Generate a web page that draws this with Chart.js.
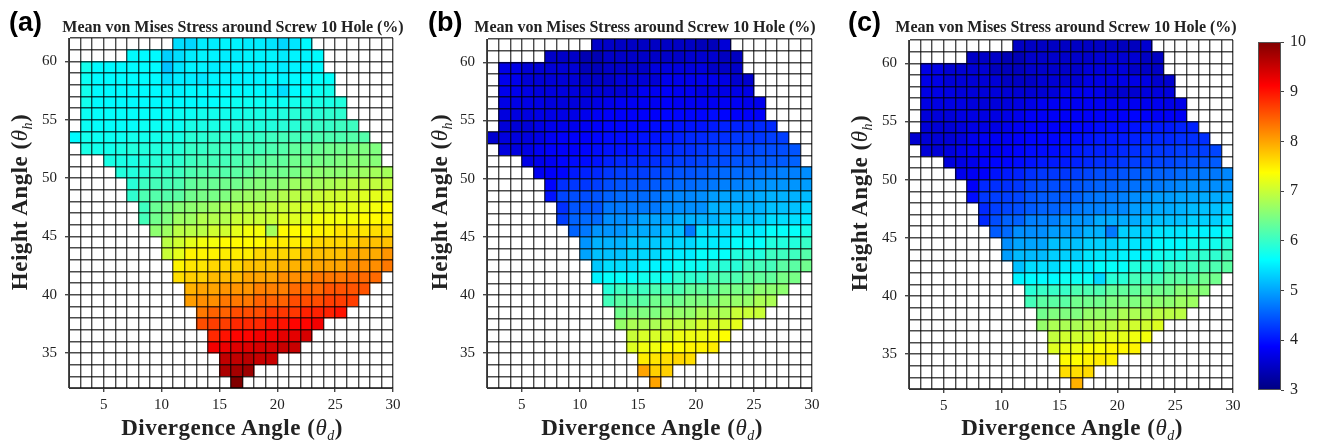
<!DOCTYPE html>
<html>
<head>
<meta charset="utf-8">
<script src="https://cdn.jsdelivr.net/npm/chart.js@4.4.1/dist/chart.umd.min.js"></script>
<style>
  body { margin: 0; background: #fff; }
  #fig { position: relative; width: 1317px; height: 443px; overflow: hidden; }
  canvas { position: absolute; top: 0; }
  .letter { position: absolute; top: 9px; font: bold 27px/27px 'Liberation Sans', Arial, sans-serif; color: #000; }
  .title { position: absolute; top: 19px; width: 380px; font: bold 16px/16px 'Liberation Serif', serif; color: #222; text-align: center; white-space: nowrap; }
  .xtitle { position: absolute; top: 416px; width: 300px; font: bold 23px/24px 'Liberation Serif', serif; letter-spacing: 0.5px; color: #222; text-align: center; white-space: nowrap; }
  .ytitle { position: absolute; width: 330px; height: 24px; font: bold 23px/24px 'Liberation Serif', serif; letter-spacing: 0.5px; color: #222; text-align: center; white-space: nowrap; transform: rotate(-90deg); }
  .m { font-weight: normal; font-style: italic; }
  .s { font-weight: normal; font-style: italic; font-size: 14px; position: relative; top: 5px; }
</style>
</head>
<body>
<div id="fig">
  <canvas id="panelA" width="420" height="443" style="left:0px"></canvas>
  <canvas id="panelB" width="420" height="443" style="left:420px"></canvas>
  <canvas id="panelC" width="410" height="443" style="left:840px"></canvas>
  <canvas id="cbar" width="72" height="443" style="left:1245px"></canvas>

  <div class="letter" style="left:9px">(a)</div>
  <div class="letter" style="left:428px">(b)</div>
  <div class="letter" style="left:848px">(c)</div>

  <div class="title" style="left:43px">Mean von Mises Stress around Screw 10 Hole (%)</div>
  <div class="title" style="left:455px">Mean von Mises Stress around Screw 10 Hole (%)</div>
  <div class="title" style="left:876px">Mean von Mises Stress around Screw 10 Hole (%)</div>

  <div class="xtitle" style="left:82px">Divergence Angle (<span class="m">θ</span><span class="s">d</span>)</div>
  <div class="xtitle" style="left:502px">Divergence Angle (<span class="m">θ</span><span class="s">d</span>)</div>
  <div class="xtitle" style="left:922px">Divergence Angle (<span class="m">θ</span><span class="s">d</span>)</div>

  <div class="ytitle" style="left:-145px;top:190px">Height Angle (<span class="m">θ</span><span class="s">h</span>)</div>
  <div class="ytitle" style="left:275px;top:190px">Height Angle (<span class="m">θ</span><span class="s">h</span>)</div>
  <div class="ytitle" style="left:695px;top:191px">Height Angle (<span class="m">θ</span><span class="s">h</span>)</div>
</div>

<script>
// Grid: columns x = 2..30, rows y = 32..62, one degree per cell
// first filled column of each row (row 0 = 32-33 deg, row 29 = 61-62 deg)
const rowStart = [14, 13, 13, 12, 12, 11, 11, 10, 10, 9, 9, 8, 8, 7, 6, 6, 5, 5, 4, 3, 1, 0, 1, 1, 1, 1, 1, 1, 5, 9];

const xTickLabels = [5, 10, 15, 20, 25, 30];
const yTickLabels = [35, 40, 45, 50, 55, 60];
const cbarTicks = [3, 4, 5, 6, 7, 8, 9, 10];

// (a) stress values per row, bottom to top
const valuesA = [
    [10.0],
    [9.7, 9.75, 9.8],
    [9.55, 9.55, 9.6, 9.5, 9.5],
    [9.2, 9.25, 9.35, 9.35, 9.4, 9.4, 9.5, 9.5],
    [8.85, 9.0, 9.1, 9.1, 9.2, 9.2, 9.3, 9.3, 9.4],
    [8.6, 8.7, 8.7, 8.85, 8.85, 8.85, 9.0, 9.0, 9.1, 9.1, 9.2],
    [8.3, 8.45, 8.45, 8.6, 8.6, 8.6, 8.75, 8.75, 8.75, 8.9, 8.9, 8.9, 9.0],
    [8.05, 8.15, 8.15, 8.3, 8.3, 8.3, 8.45, 8.45, 8.45, 8.6, 8.6, 8.6, 8.7, 8.7, 8.7],
    [7.9, 8.0, 8.0, 8.1, 8.1, 8.1, 8.25, 8.25, 8.25, 8.4, 8.4, 8.4, 8.55, 8.55, 8.55, 8.55],
    [7.6, 7.7, 7.7, 7.85, 7.85, 7.85, 8.0, 8.0, 8.0, 8.15, 8.15, 8.15, 8.3, 8.3, 8.3, 8.4, 8.4, 8.4],
    [7.45, 7.55, 7.55, 7.65, 7.65, 7.65, 7.8, 7.8, 7.8, 7.9, 7.9, 7.9, 8.0, 8.0, 8.0, 8.15, 8.15, 8.15, 8.3],
    [7.0, 7.2, 7.45, 7.45, 7.45, 7.5, 7.5, 7.5, 7.65, 7.65, 7.65, 7.65, 7.8, 7.8, 7.8, 7.8, 7.95, 7.95, 7.95, 8.1],
    [6.9, 7.05, 7.2, 7.3, 7.3, 7.4, 7.4, 7.4, 7.4, 7.5, 7.5, 7.5, 7.5, 7.65, 7.65, 7.65, 7.65, 7.8, 7.8, 7.8],
    [6.6, 6.7, 6.9, 6.9, 6.9, 7.05, 7.05, 7.2, 7.3, 7.3, 6.75, 7.4, 7.4, 7.38, 7.45, 7.45, 7.55, 7.55, 7.55, 7.6, 7.6],
    [6.1, 6.4, 6.5, 6.7, 6.7, 6.85, 6.85, 6.85, 7.0, 7.0, 7.0, 7.0, 7.15, 7.15, 7.15, 7.3, 7.3, 7.3, 7.3, 7.4, 7.4, 7.45],
    [6.05, 6.35, 6.45, 6.55, 6.6, 6.65, 6.7, 6.8, 6.85, 6.9, 6.9, 6.95, 7.0, 7.05, 7.1, 7.15, 7.15, 7.2, 7.2, 7.25, 7.3, 7.38],
    [5.95, 6.15, 6.2, 6.2, 6.25, 6.4, 6.45, 6.45, 6.5, 6.65, 6.7, 6.7, 6.75, 6.85, 6.9, 6.9, 7.0, 7.05, 7.05, 7.1, 7.15, 7.2, 7.2],
    [5.9, 6.05, 6.1, 6.1, 6.15, 6.3, 6.35, 6.35, 6.4, 6.4, 6.5, 6.55, 6.55, 6.6, 6.7, 6.75, 6.75, 6.8, 6.85, 6.9, 6.95, 6.95, 7.0],
    [5.85, 5.85, 5.9, 6.0, 6.0, 6.05, 6.15, 6.2, 6.2, 6.2, 6.25, 6.3, 6.4, 6.4, 6.4, 6.45, 6.55, 6.6, 6.6, 6.6, 6.65, 6.7, 6.75, 6.75],
    [5.8, 5.8, 5.8, 5.85, 5.9, 5.9, 5.95, 6.05, 6.1, 6.1, 6.1, 6.15, 6.2, 6.25, 6.3, 6.3, 6.4, 6.4, 6.45, 6.45, 6.5, 6.55, 6.55, 6.55],
    [5.8, 5.75, 5.75, 5.8, 5.85, 5.85, 5.85, 5.85, 5.9, 6.0, 6.0, 6.05, 6.05, 6.05, 6.1, 6.1, 6.15, 6.2, 6.3, 6.3, 6.35, 6.4, 6.4, 6.45, 6.5, 6.5],
    [5.6, 5.75, 5.7, 5.7, 5.7, 5.75, 5.75, 5.75, 5.8, 5.8, 5.9, 5.9, 5.95, 5.95, 5.95, 6.0, 6.0, 6.05, 6.1, 6.1, 6.1, 6.15, 6.15, 6.15, 6.2, 6.2],
    [5.7, 5.65, 5.65, 5.65, 5.65, 5.7, 5.7, 5.7, 5.7, 5.8, 5.8, 5.8, 5.8, 5.85, 5.85, 5.85, 5.85, 5.9, 5.9, 6.0, 6.0, 6.0, 6.05, 6.05],
    [5.7, 5.65, 5.65, 5.65, 5.65, 5.65, 5.65, 5.65, 5.7, 5.7, 5.75, 5.75, 5.75, 5.75, 5.8, 5.8, 5.8, 5.85, 5.9, 5.9, 5.9, 5.95, 5.95],
    [5.75, 5.6, 5.6, 5.6, 5.6, 5.6, 5.6, 5.6, 5.6, 5.6, 5.6, 5.62, 5.65, 5.7, 5.7, 5.7, 5.7, 5.7, 5.75, 5.8, 5.8, 5.8, 5.85],
    [5.75, 5.6, 5.6, 5.6, 5.6, 5.6, 5.6, 5.55, 5.55, 5.6, 5.6, 5.6, 5.6, 5.6, 5.6, 5.6, 5.55, 5.4, 5.6, 5.65, 5.7, 5.75],
    [5.7, 5.6, 5.6, 5.6, 5.6, 5.6, 5.6, 5.4, 5.5, 5.5, 5.45, 5.55, 5.55, 5.55, 5.55, 5.55, 5.6, 5.55, 5.6, 5.6, 5.65, 5.65],
    [5.75, 5.6, 5.6, 5.6, 5.6, 5.6, 5.6, 5.2, 5.45, 5.55, 5.55, 5.5, 5.5, 5.55, 5.55, 5.55, 5.55, 5.5, 5.55, 5.55, 5.6],
    [5.6, 5.6, 5.6, 5.3, 5.4, 5.5, 5.55, 5.55, 5.5, 5.5, 5.55, 5.55, 5.55, 5.5, 5.55, 5.55, 5.6],
    [5.4, 5.35, 5.5, 5.5, 5.55, 5.55, 5.5, 5.5, 5.45, 5.35, 5.45, 5.6]
];

// (b)
const valuesB = [
    [8.0],
    [8.0, 7.7, 7.7],
    [7.5, 7.55, 7.6, 7.65, 7.6],
    [7.15, 7.28, 7.28, 7.38, 7.38, 7.45, 7.45, 7.5],
    [7.0, 7.1, 7.1, 7.1, 7.25, 7.25, 7.25, 7.3, 7.38],
    [6.65, 6.8, 6.8, 6.8, 6.95, 6.95, 6.95, 7.1, 7.1, 7.1, 7.2],
    [6.4, 6.5, 6.5, 6.5, 6.65, 6.65, 6.65, 6.8, 6.8, 6.8, 7.0, 7.0, 7.0],
    [6.1, 6.25, 6.25, 6.25, 6.4, 6.4, 6.4, 6.5, 6.5, 6.5, 6.65, 6.65, 6.65, 6.8, 6.8],
    [5.9, 6.05, 6.05, 6.05, 6.15, 6.15, 6.15, 6.3, 6.3, 6.3, 6.45, 6.45, 6.45, 6.6, 6.6, 6.6],
    [5.55, 5.65, 5.65, 5.65, 5.75, 5.75, 5.75, 5.95, 5.95, 5.95, 6.15, 6.15, 6.15, 6.3, 6.3, 6.3, 6.45, 6.45],
    [5.25, 5.4, 5.4, 5.4, 5.55, 5.55, 5.55, 5.7, 5.7, 5.7, 5.9, 5.9, 5.9, 6.1, 6.1, 6.1, 6.25, 6.25, 6.4],
    [5.0, 5.2, 5.2, 5.2, 5.35, 5.35, 5.35, 5.5, 5.5, 5.5, 5.65, 5.65, 5.65, 5.85, 5.85, 5.85, 6.05, 6.05, 6.05, 6.2],
    [4.9, 5.1, 5.1, 5.1, 5.25, 5.25, 5.25, 5.35, 5.35, 5.35, 5.5, 5.5, 5.5, 5.65, 5.65, 5.65, 5.85, 5.85, 5.85, 6.0],
    [4.55, 4.7, 4.9, 4.9, 4.9, 5.05, 5.05, 5.05, 5.2, 5.2, 4.7, 5.4, 5.4, 5.4, 5.5, 5.5, 5.5, 5.65, 5.65, 5.65, 5.8],
    [4.3, 4.55, 4.6, 4.6, 4.85, 4.85, 4.85, 5.0, 5.0, 5.0, 5.1, 5.1, 5.1, 5.1, 5.25, 5.25, 5.25, 5.25, 5.4, 5.4, 5.4, 5.5],
    [4.2, 4.45, 4.45, 4.45, 4.7, 4.7, 4.7, 4.7, 4.7, 4.85, 4.85, 4.85, 4.85, 5.1, 5.1, 5.1, 5.1, 5.1, 5.2, 5.2, 5.2, 5.35],
    [4.0, 4.35, 4.4, 4.4, 4.45, 4.55, 4.6, 4.6, 4.6, 4.65, 4.75, 4.8, 4.8, 4.85, 4.95, 5.0, 5.0, 5.0, 5.05, 5.1, 5.1, 5.1, 5.15],
    [3.9, 4.2, 4.25, 4.25, 4.3, 4.4, 4.45, 4.45, 4.45, 4.5, 4.55, 4.6, 4.6, 4.65, 4.7, 4.75, 4.75, 4.8, 4.85, 4.9, 4.9, 4.9, 4.95],
    [3.8, 3.85, 3.9, 4.05, 4.1, 4.15, 4.25, 4.3, 4.3, 4.3, 4.35, 4.4, 4.45, 4.45, 4.5, 4.55, 4.6, 4.6, 4.6, 4.65, 4.7, 4.75, 4.75, 4.85],
    [3.7, 3.75, 3.8, 3.9, 3.95, 3.95, 4.0, 4.1, 4.15, 4.15, 4.15, 4.2, 4.25, 4.3, 4.3, 4.35, 4.4, 4.4, 4.45, 4.45, 4.5, 4.5, 4.5, 4.55],
    [3.65, 3.65, 3.7, 3.8, 3.85, 3.85, 3.85, 3.9, 3.95, 4.0, 4.0, 4.0, 4.05, 4.1, 4.15, 4.2, 4.2, 4.25, 4.3, 4.35, 4.35, 4.35, 4.4, 4.4, 4.4, 4.45],
    [3.55, 3.65, 3.65, 3.65, 3.7, 3.8, 3.85, 3.85, 3.85, 3.9, 3.95, 3.95, 3.95, 4.0, 4.0, 4.05, 4.1, 4.15, 4.15, 4.2, 4.2, 4.25, 4.25, 4.25, 4.3, 4.3],
    [3.6, 3.6, 3.6, 3.7, 3.75, 3.75, 3.75, 3.8, 3.85, 3.9, 3.9, 3.9, 3.9, 3.95, 3.95, 4.0, 4.0, 4.0, 4.05, 4.1, 4.1, 4.1, 4.15, 4.15],
    [3.65, 3.65, 3.65, 3.7, 3.7, 3.7, 3.7, 3.75, 3.8, 3.85, 3.85, 3.85, 3.85, 3.85, 3.9, 3.9, 3.9, 3.9, 3.95, 3.9, 3.85, 3.85, 3.85],
    [3.7, 3.7, 3.7, 3.7, 3.65, 3.65, 3.65, 3.65, 3.7, 3.75, 3.8, 3.8, 3.8, 3.8, 3.85, 3.8, 3.8, 3.8, 3.8, 3.8, 3.8, 3.75, 3.75],
    [3.75, 3.75, 3.7, 3.65, 3.65, 3.65, 3.65, 3.6, 3.6, 3.6, 3.6, 3.65, 3.8, 3.8, 3.85, 3.8, 3.8, 3.7, 3.7, 3.7, 3.7, 3.7],
    [3.75, 3.75, 3.6, 3.6, 3.6, 3.6, 3.6, 3.5, 3.5, 3.5, 3.6, 3.6, 3.6, 3.6, 3.75, 3.75, 3.75, 3.75, 3.75, 3.7, 3.55, 3.55],
    [3.7, 3.7, 3.6, 3.6, 3.6, 3.6, 3.6, 3.4, 3.4, 3.5, 3.5, 3.5, 3.5, 3.65, 3.65, 3.65, 3.65, 3.65, 3.5, 3.5, 3.5],
    [3.5, 3.5, 3.5, 3.35, 3.35, 3.5, 3.5, 3.5, 3.5, 3.5, 3.5, 3.5, 3.55, 3.55, 3.55, 3.45, 3.45],
    [3.5, 3.5, 3.47, 3.47, 3.47, 3.47, 3.47, 3.47, 3.47, 3.4, 3.4, 3.6]
];

// (c)
const valuesC = [
    [7.9],
    [7.6, 7.6, 7.62],
    [7.4, 7.38, 7.45, 7.5, 7.45],
    [7.15, 7.25, 7.25, 7.35, 7.35, 7.42, 7.42, 7.45],
    [6.95, 7.05, 7.05, 7.05, 7.2, 7.2, 7.2, 7.28, 7.3],
    [6.65, 6.8, 6.8, 6.8, 6.9, 6.9, 6.9, 7.05, 7.05, 7.05, 7.15],
    [6.4, 6.5, 6.5, 6.5, 6.65, 6.65, 6.65, 6.8, 6.8, 6.8, 6.9, 6.9, 6.9],
    [6.1, 6.25, 6.25, 6.25, 6.4, 6.4, 6.4, 6.5, 6.5, 6.5, 6.6, 6.6, 6.6, 6.7, 6.7],
    [5.9, 6.0, 6.0, 6.0, 6.15, 6.15, 6.15, 6.3, 6.3, 6.3, 6.4, 6.4, 6.4, 6.55, 6.55, 6.55],
    [5.55, 5.6, 5.6, 5.6, 5.7, 5.7, 5.7, 5.35, 5.9, 5.9, 6.1, 6.1, 6.1, 6.25, 6.25, 6.25, 6.4, 6.4],
    [5.2, 5.4, 5.4, 5.4, 5.5, 5.5, 5.5, 5.65, 5.65, 5.65, 5.85, 5.85, 5.85, 6.05, 6.05, 6.05, 6.15, 6.15, 6.25],
    [4.95, 5.15, 5.15, 5.15, 5.3, 5.3, 5.3, 5.45, 5.45, 5.45, 5.55, 5.55, 5.55, 5.75, 5.75, 5.75, 5.95, 5.95, 5.95, 6.1],
    [4.85, 5.0, 5.0, 5.0, 5.2, 5.2, 5.2, 5.3, 5.3, 5.3, 5.45, 5.45, 5.45, 5.6, 5.6, 5.6, 5.75, 5.75, 5.75, 5.9],
    [4.5, 4.6, 4.85, 4.85, 4.85, 4.95, 4.95, 4.95, 5.1, 5.1, 4.7, 5.3, 5.3, 5.3, 5.45, 5.45, 5.45, 5.55, 5.55, 5.55, 5.7],
    [4.15, 4.4, 4.55, 4.55, 4.75, 4.75, 4.75, 4.9, 4.9, 4.9, 5.05, 5.05, 5.05, 5.05, 5.2, 5.2, 5.2, 5.2, 5.3, 5.3, 5.3, 5.45],
    [4.15, 4.3, 4.35, 4.4, 4.5, 4.55, 4.55, 4.6, 4.7, 4.75, 4.75, 4.8, 4.8, 4.95, 5.0, 5.05, 5.05, 5.1, 5.15, 5.2, 5.2, 5.3],
    [3.95, 4.25, 4.3, 4.3, 4.35, 4.45, 4.5, 4.5, 4.5, 4.55, 4.65, 4.7, 4.7, 4.75, 4.85, 4.9, 4.95, 4.95, 5.0, 5.0, 5.05, 5.05, 5.1],
    [3.85, 4.15, 4.2, 4.2, 4.25, 4.35, 4.4, 4.4, 4.4, 4.45, 4.5, 4.55, 4.55, 4.6, 4.65, 4.7, 4.7, 4.75, 4.8, 4.85, 4.85, 4.85, 4.9],
    [3.75, 3.8, 3.85, 4.0, 4.05, 4.1, 4.2, 4.25, 4.25, 4.25, 4.3, 4.35, 4.4, 4.4, 4.45, 4.5, 4.55, 4.55, 4.55, 4.6, 4.65, 4.7, 4.7, 4.8],
    [3.65, 3.7, 3.75, 3.85, 3.9, 3.9, 3.95, 4.0, 4.05, 4.05, 4.05, 4.1, 4.15, 4.2, 4.2, 4.25, 4.3, 4.3, 4.35, 4.35, 4.4, 4.45, 4.45, 4.5],
    [3.6, 3.6, 3.65, 3.75, 3.8, 3.8, 3.8, 3.85, 3.9, 3.95, 3.95, 3.95, 4.0, 4.05, 4.1, 4.1, 4.1, 4.15, 4.2, 4.25, 4.25, 4.25, 4.3, 4.3, 4.3, 4.35],
    [3.55, 3.6, 3.6, 3.6, 3.65, 3.75, 3.8, 3.8, 3.8, 3.85, 3.9, 3.9, 3.9, 3.95, 3.95, 4.0, 4.05, 4.05, 4.05, 4.1, 4.15, 4.15, 4.15, 4.2, 4.2, 4.2],
    [3.6, 3.6, 3.6, 3.65, 3.7, 3.7, 3.7, 3.75, 3.8, 3.85, 3.85, 3.85, 3.85, 3.9, 3.9, 3.95, 3.95, 3.95, 4.0, 4.05, 4.05, 4.05, 4.1, 4.1],
    [3.62, 3.62, 3.62, 3.68, 3.68, 3.68, 3.68, 3.7, 3.75, 3.82, 3.82, 3.82, 3.82, 3.82, 3.85, 3.85, 3.85, 3.85, 3.9, 3.85, 3.82, 3.82, 3.82],
    [3.68, 3.68, 3.68, 3.68, 3.63, 3.63, 3.63, 3.63, 3.68, 3.72, 3.8, 3.8, 3.8, 3.8, 3.82, 3.8, 3.78, 3.78, 3.78, 3.78, 3.78, 3.72, 3.72],
    [3.7, 3.7, 3.68, 3.62, 3.62, 3.62, 3.62, 3.6, 3.58, 3.58, 3.58, 3.62, 3.75, 3.75, 3.78, 3.75, 3.55, 3.55, 3.55, 3.65, 3.65, 3.65],
    [3.72, 3.72, 3.6, 3.6, 3.6, 3.6, 3.6, 3.48, 3.48, 3.48, 3.58, 3.58, 3.58, 3.58, 3.7, 3.7, 3.7, 3.7, 3.7, 3.68, 3.55, 3.55],
    [3.7, 3.7, 3.58, 3.58, 3.58, 3.58, 3.43, 3.43, 3.43, 3.52, 3.52, 3.52, 3.52, 3.52, 3.63, 3.63, 3.63, 3.63, 3.5, 3.5, 3.5],
    [3.5, 3.5, 3.5, 3.38, 3.38, 3.52, 3.52, 3.52, 3.52, 3.52, 3.52, 3.57, 3.57, 3.57, 3.57, 3.47, 3.47],
    [3.47, 3.47, 3.47, 3.47, 3.47, 3.47, 3.47, 3.47, 3.47, 3.43, 3.43, 3.55]
];

const cMin = 3, cMax = 10;

Chart.defaults.font.family = "'Liberation Serif', serif";
Chart.defaults.font.size = 15;
Chart.defaults.color = '#222';

// MATLAB jet colormap
function jet(v) {
    const t = Math.min(1, Math.max(0, (v - cMin) / (cMax - cMin)));
    const c = k => Math.round(255 * Math.min(1, Math.max(0, 1.5 - Math.abs(4 * t - k))));
    return `rgb(${c(3)},${c(2)},${c(1)})`;
}

function gridAxis(min, max, labels, fitKey, fitSize, tickPad) {
    return {
        type: 'linear',
        min: min,
        max: max,
        offset: false,
        ticks: {
            stepSize: 1,
            autoSkip: false,
            maxRotation: 0,
            maxTicksLimit: 100,
            padding: tickPad,
            color: '#222',
            callback: v => labels.includes(v) ? String(v) : ''
        },
        // grid on top of the cells, like the MATLAB pcolor edges
        grid: {
            z: 1,
            offset: false,
            color: 'rgba(0,0,0,0.7)',
            lineWidth: 1.4,
            tickLength: 4,
            tickColor: c => labels.includes(c.tick.value) ? '#444' : 'rgba(0,0,0,0)'
        },
        border: { color: '#333', z: 2 },
        afterFit: s => { s[fitKey] = fitSize; }
    };
}

function makePanel(id, values, pad) {
    const datasets = values.map((row, j) => ({
        data: row.map((v, k) => ({ x: rowStart[j] + k + 2.5, y: [32 + j, 33 + j] })),
        backgroundColor: row.map(jet),
        borderWidth: 0,
        grouped: false,
        barPercentage: 1,
        categoryPercentage: 1
    }));

    new Chart(document.getElementById(id), {
        type: 'bar',
        data: { datasets: datasets },
        options: {
            responsive: false,
            animation: false,
            events: [],
            layout: { padding: pad },
            plugins: { legend: { display: false }, tooltip: { enabled: false } },
            scales: {
                x: gridAxis(2, 30, xTickLabels, 'height', 22, 4),
                y: gridAxis(32, 62, yTickLabels, 'width', 30, 8)
            }
        }
    });
}

makePanel('panelA', valuesA, { left: 39, right: 27, top: 38, bottom: 33 });
makePanel('panelB', valuesB, { left: 37, right: 28, top: 39, bottom: 33 });
makePanel('panelC', valuesC, { left: 39, right: 17, top: 40, bottom: 32 });

// Colorbar
const colorbarFill = {
    id: 'colorbarFill',
    beforeDatasetsDraw(chart) {
        const { ctx, chartArea: a, scales: { y } } = chart;
        const g = ctx.createLinearGradient(0, y.getPixelForValue(cMin), 0, y.getPixelForValue(cMax));
        [0, 0.125, 0.375, 0.625, 0.875, 1].forEach(s => g.addColorStop(s, jet(cMin + s * (cMax - cMin))));
        ctx.save();
        ctx.fillStyle = g;
        ctx.fillRect(a.left, a.top, a.right - a.left, a.bottom - a.top);
        ctx.strokeStyle = '#555';
        ctx.lineWidth = 1;
        ctx.strokeRect(a.left + 0.5, a.top + 0.5, a.right - a.left - 1, a.bottom - a.top - 1);
        ctx.restore();
    }
};

new Chart(document.getElementById('cbar'), {
    type: 'scatter',
    data: { datasets: [{ data: [] }] },
    options: {
        responsive: false,
        animation: false,
        events: [],
        layout: { padding: { left: 13, right: 2, top: 42, bottom: 53 } },
        plugins: { legend: { display: false }, tooltip: { enabled: false } },
        scales: {
            x: { display: false, min: 0, max: 1 },
            y: {
                position: 'right',
                min: cMin,
                max: cMax,
                ticks: {
                    stepSize: 1,
                    padding: 6,
                    color: '#222',
                    font: { size: 16 },
                    callback: v => cbarTicks.includes(v) ? String(v) : ''
                },
                grid: { drawOnChartArea: false, tickLength: 3, tickColor: '#444' },
                border: { display: false },
                afterFit: s => { s.width = 34; }
            }
        }
    },
    plugins: [colorbarFill]
});
</script>
</body>
</html>
